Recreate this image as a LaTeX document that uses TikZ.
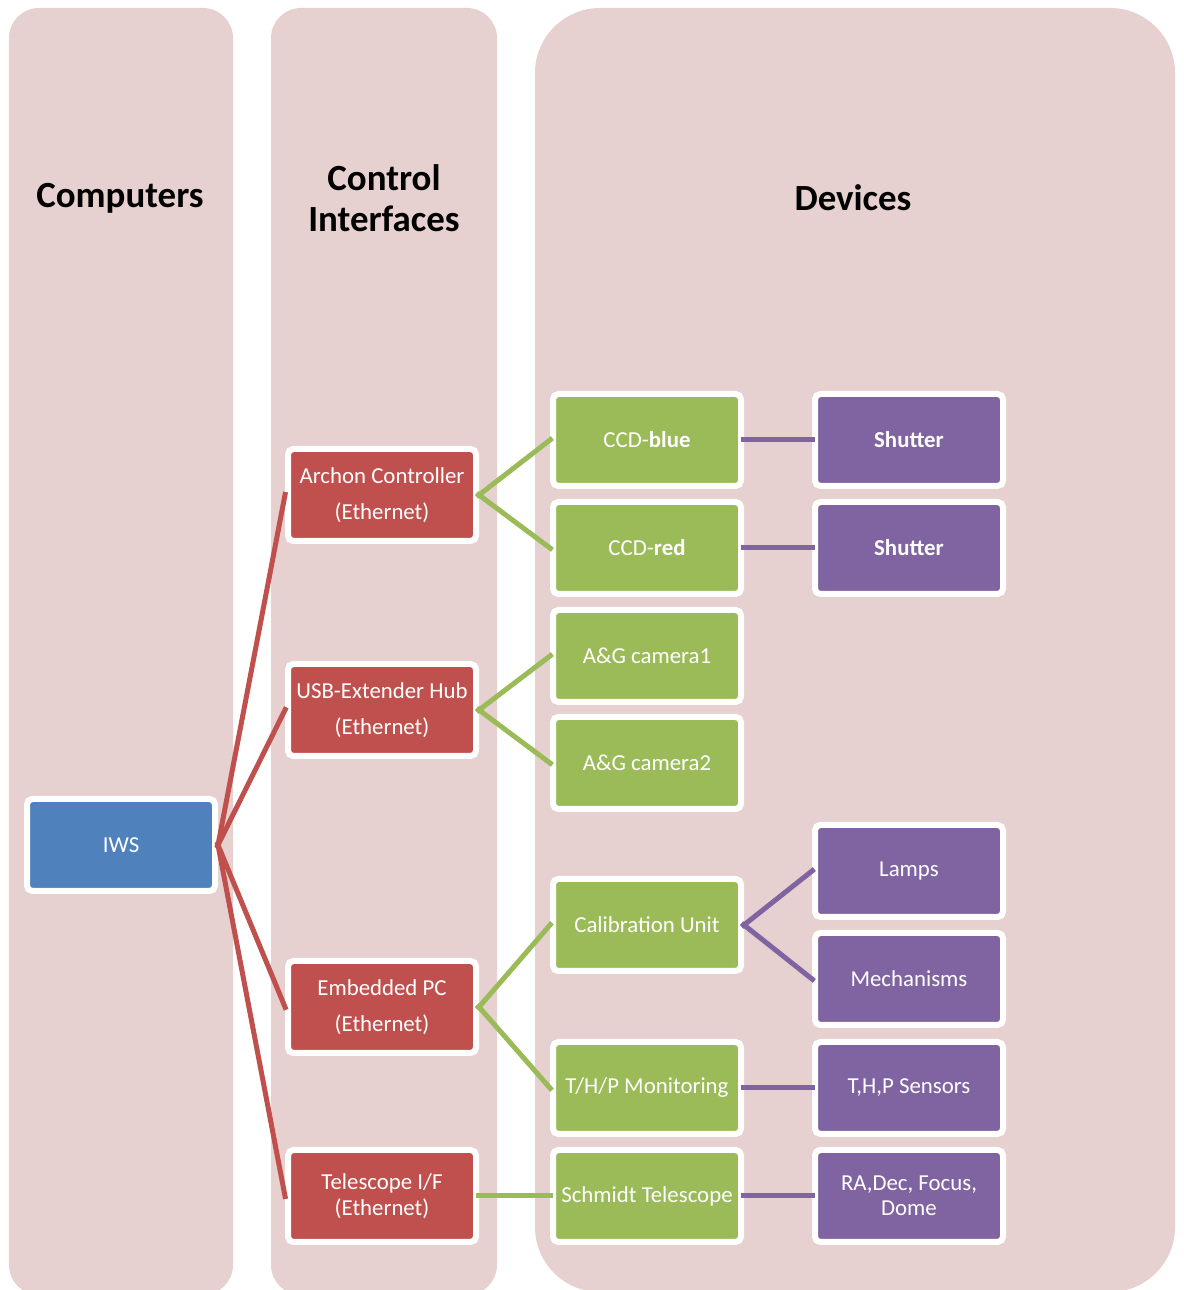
\documentclass[tikz,border=0pt]{standalone}
\usepackage{fontspec}
\setmainfont{Carlito}
\usepackage{xcolor}
\definecolor{lane}{HTML}{E7D0D0}
\definecolor{pcblue}{HTML}{4F81BD}
\definecolor{ifred}{HTML}{C0504D}
\definecolor{devgreen}{HTML}{9BBB59}
\definecolor{partpurple}{HTML}{8064A2}
\definecolor{ink}{HTML}{000000}
\tikzset{
  every node/.style={font=\fontsize{13}{14.5}\selectfont,text=white},
  box/.style={draw=white,line width=1.2mm,rounded corners=3pt,fill=pcblue,minimum width=37.6mm,minimum height=18.4mm,align=center,inner sep=1pt},
  ifbox/.style={box,fill=ifred},
  devbox/.style={box,fill=devgreen},
  partbox/.style={box,fill=partpurple},
  lanebg/.style={fill=lane},
  heading/.style={font=\bfseries\fontsize{21}{23.5}\selectfont,text=ink,align=center},
  wire/.style={line width=1mm,shorten <=-0.6mm,shorten >=-0.6mm},
  ifwire/.style={wire,draw=ifred},
  devwire/.style={wire,draw=devgreen},
  partwire/.style={wire,draw=partpurple},
}

\begin{document}
\begin{tikzpicture}[x=1cm,y=1cm]
  \useasboundingbox (0,0) rectangle (23.66,25.8);
  \fill[lanebg,rounded corners=6mm] (0.18,-0.1) rectangle (4.66,25.64);
  \fill[lanebg,rounded corners=6mm] (5.42,-0.1) rectangle (9.94,25.64);
  \fill[lanebg,rounded corners=13mm] (10.70,-0.04) rectangle (23.50,25.64);
  \node[heading] (comptitle) at (2.40,21.84) {Computers};
  \node[heading] (ctrltitle) at (7.68,21.84) {Control\\Interfaces};
  \node[heading] (devtitle) at (17.06,21.84) {Devices};
  \node[box] (iws) at (2.42,8.90) {IWS};
  \node[ifbox] (archon) at (7.64,15.90) {Archon Controller\\[6pt](Ethernet)};
  \node[ifbox] (usbhub) at (7.64,11.60) {USB-Extender Hub\\[6pt](Ethernet)};
  \node[ifbox] (embpc) at (7.64,5.66) {Embedded PC\\[6pt](Ethernet)};
  \node[ifbox] (telif) at (7.64,1.88) {Telescope I/F\\(Ethernet)};
  \node[devbox] (ccdblue) at (12.94,17.00) {CCD-\textbf{blue}};
  \node[devbox] (ccdred) at (12.94,14.84) {CCD-\textbf{red}};
  \node[devbox] (agcam1) at (12.94,12.68) {A\&G camera1};
  \node[devbox] (agcam2) at (12.94,10.54) {A\&G camera2};
  \node[devbox] (calib) at (12.94,7.30) {Calibration Unit};
  \node[devbox] (thpmon) at (12.94,4.04) {T/H/P Monitoring};
  \node[devbox] (schmidt) at (12.94,1.88) {Schmidt Telescope};
  \node[partbox] (shutblue) at (18.18,17.00) {\textbf{Shutter}};
  \node[partbox] (shutred) at (18.18,14.84) {\textbf{Shutter}};
  \node[partbox] (lamps) at (18.18,8.38) {Lamps};
  \node[partbox] (mech) at (18.18,6.22) {Mechanisms};
  \node[partbox] (sensors) at (18.18,4.04) {T,H,P Sensors};
  \node[partbox] (radec) at (18.18,1.88) {RA,Dec, Focus,\\Dome};
  \draw[ifwire] (iws.east) -- (archon.west);
  \draw[ifwire] (iws.east) -- (usbhub.west);
  \draw[ifwire] (iws.east) -- (embpc.west);
  \draw[ifwire] (iws.east) -- (telif.west);
  \draw[devwire] (archon.east) -- (ccdblue.west);
  \draw[devwire] (archon.east) -- (ccdred.west);
  \draw[devwire] (usbhub.east) -- (agcam1.west);
  \draw[devwire] (usbhub.east) -- (agcam2.west);
  \draw[devwire] (embpc.east) -- (calib.west);
  \draw[devwire] (embpc.east) -- (thpmon.west);
  \draw[devwire] (telif.east) -- (schmidt.west);
  \draw[partwire] (ccdblue.east) -- (shutblue.west);
  \draw[partwire] (ccdred.east) -- (shutred.west);
  \draw[partwire] (calib.east) -- (lamps.west);
  \draw[partwire] (calib.east) -- (mech.west);
  \draw[partwire] (thpmon.east) -- (sensors.west);
  \draw[partwire] (schmidt.east) -- (radec.west);
\end{tikzpicture}
\end{document}
